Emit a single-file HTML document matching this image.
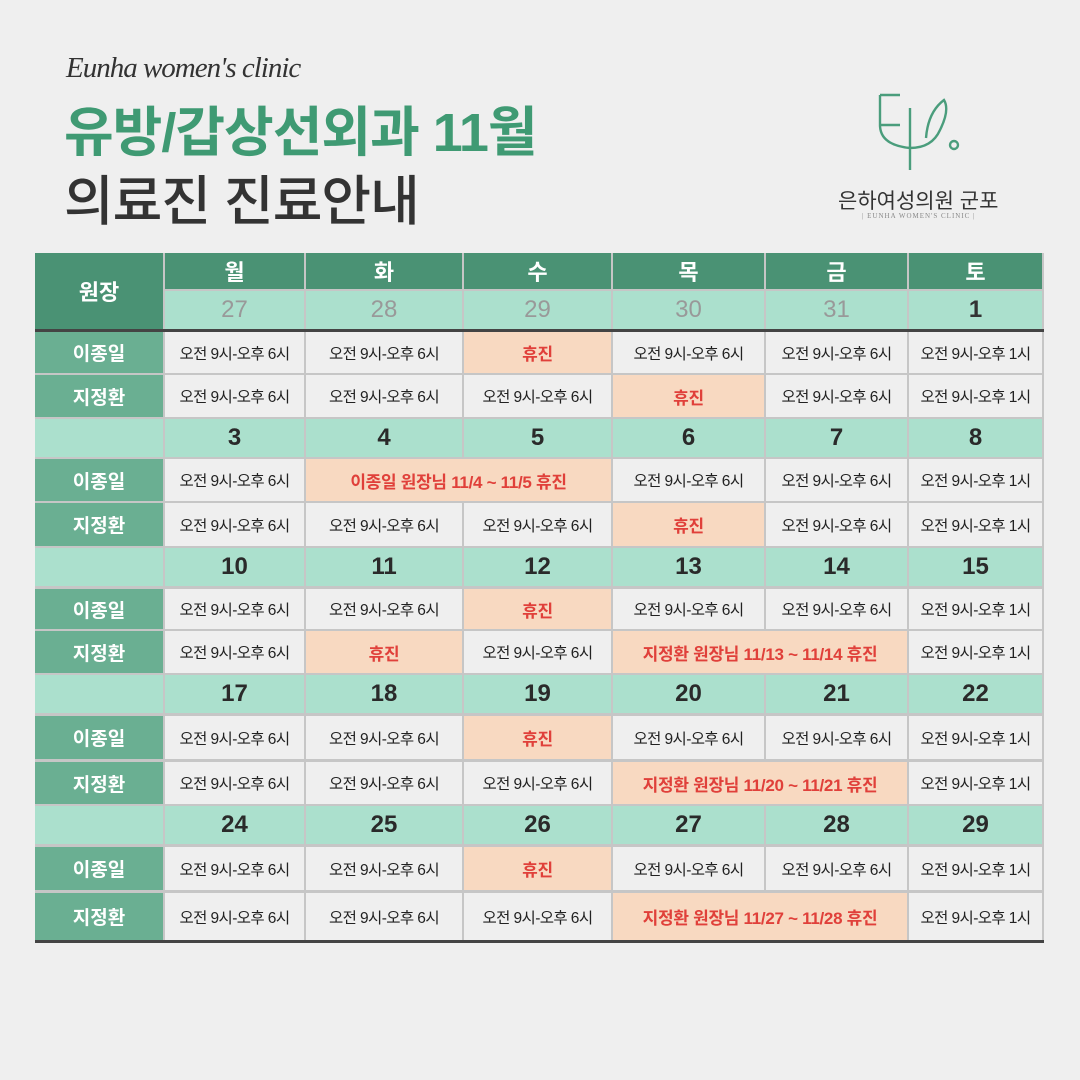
<!DOCTYPE html>
<html><head><meta charset="utf-8">
<style>
body{margin:0;width:1080px;height:1080px;background:#efefef;position:relative;overflow:hidden;font-family:"Liberation Sans","Noto Sans CJK KR",sans-serif;}
.c{position:absolute;display:flex;align-items:center;justify-content:center;box-sizing:border-box;white-space:nowrap}
</style></head><body>
<div style="position:absolute;left:66px;top:52px;font-family:'Liberation Serif',serif;font-style:italic;font-size:29px;color:#333;letter-spacing:-1px">Eunha women's clinic</div>
<div style="position:absolute;left:64px;top:88px;font-size:54px;font-weight:bold;color:#3f9a73;letter-spacing:-1px">유방/갑상선외과 11월</div>
<div style="position:absolute;left:64px;top:157px;font-size:54px;font-weight:500;color:#333;letter-spacing:-1px">의료진 진료안내</div>
<svg style="position:absolute;left:870px;top:90px" width="100" height="90" viewBox="0 0 100 90">
<g fill="none" stroke="#4a9d7c" stroke-width="2.4"><path d="M10 5 H30 M10 5 V35 H30 M10 35 Q10 55 40 58 Q62 58 70 40 Q80 20 74 10 Q58 22 56 48 M40 18 V80"/><circle cx="84" cy="55" r="4"/></g></svg>
<div style="position:absolute;left:838px;top:185px;font-size:21px;color:#333">은하여성의원 군포</div>
<div style="position:absolute;left:862px;top:212px;font-size:7px;color:#888;letter-spacing:1px;font-family:'Liberation Serif',serif">| EUNHA WOMEN'S CLINIC |</div>
<div id="t"></div>
<script>
const days=['월','화','수','목','금','토'];
const firstDates=['27','28','29','30','31','1'];
const weekDates=[['3','4','5','6','7','8'],['10','11','12','13','14','15'],['17','18','19','20','21','22'],['24','25','26','27','28','29']];
const W6='오전 9시-오후 6시',W1='오전 9시-오후 1시',H='휴진';
const leeRows=[
[[W6,1],[W6,1],[H,1],[W6,1],[W6,1],[W1,1]],
[[W6,1],['이종일 원장님 11/4 ~ 11/5 휴진',2],[W6,1],[W6,1],[W1,1]],
[[W6,1],[W6,1],[H,1],[W6,1],[W6,1],[W1,1]],
[[W6,1],[W6,1],[H,1],[W6,1],[W6,1],[W1,1]],
[[W6,1],[W6,1],[H,1],[W6,1],[W6,1],[W1,1]]];
const jiRows=[
[[W6,1],[W6,1],[W6,1],[H,1],[W6,1],[W1,1]],
[[W6,1],[W6,1],[W6,1],[H,1],[W6,1],[W1,1]],
[[W6,1],[H,1],[W6,1],['지정환 원장님 11/13 ~ 11/14 휴진',2],[W1,1]],
[[W6,1],[W6,1],[W6,1],['지정환 원장님 11/20 ~ 11/21 휴진',2],[W1,1]],
[[W6,1],[W6,1],[W6,1],['지정환 원장님 11/27 ~ 11/28 휴진',2],[W1,1]]];
const X=[35,165,306,464,613,766,909,1044];
const t=document.getElementById('t');
function cell(x1,x2,y1,y2,txt,bg,col,fs,fw,name,ls){
 const d=document.createElement('div');d.className='c';
 d.style.cssText=`left:${x1}px;top:${y1}px;width:${x2-x1}px;height:${y2-y1}px;background:${bg};color:${col};font-size:${fs}px;font-weight:${fw};letter-spacing:${ls||0}px`;
 d.textContent=txt;
 
 
 t.appendChild(d);}
const g=document.createElement('div');g.className='c';g.style.cssText='left:35px;top:253px;width:1009px;height:688px;background:#c6c6c6';


t.appendChild(g);
cell(35,163,253,329,'원장','#4a9274','#fff',22,'bold','doctor-header');
days.forEach((d,i)=>{cell(X[i+1],X[i+2]-2,253,289,d,'#4a9274','#fff',22,'bold','day-'+i);
 cell(X[i+1],X[i+2]-2,291,329,firstDates[i],'#abe0cd',i<5?'#999':'#333',24,i<5?'normal':'bold','date-cell');});
cell(35,1044,329,332,'','#444','#fff',1,'normal','header-divider');
const personY=[[332,373],[375,417],[459,501],[503,546],[589,629],[631,673],[716,759],[762,804],[847,890],[893,940]];
const dateY=[[419,457],[548,586],[675,713],[806,844]];
function row(arr,y,who,nm){
 cell(35,163,y[0],y[1],nm,'#6aaf92','#fff',19,'bold','doctor-name');
 let c=0;arr.forEach(([txt,sp])=>{const off=txt!==W6&&txt!==W1;
  cell(X[c+1],X[c+1+sp]-2,y[0],y[1],txt,off?'#f8d9c1':'#efefef',off?'#e0403a':'#222',off?17:15.5,off?'bold':'normal',who+'-schedule',off?-0.3:-0.6);c+=sp;});}
for(let w=0;w<5;w++){
 if(w>0){const y=dateY[w-1];cell(35,163,y[0],y[1],'','#abe0cd','#333',1,'normal','week-spacer');
  weekDates[w-1].forEach((d,i)=>cell(X[i+1],X[i+2]-2,y[0],y[1],d,'#abe0cd','#2a2a2a',24,'bold','date-cell'));}
 row(leeRows[w],personY[w*2],'lee','이종일');
 row(jiRows[w],personY[w*2+1],'ji','지정환');}
cell(35,1044,940,943,'','#444','#fff',1,'normal','bottom-divider');
</script>
</body></html>
